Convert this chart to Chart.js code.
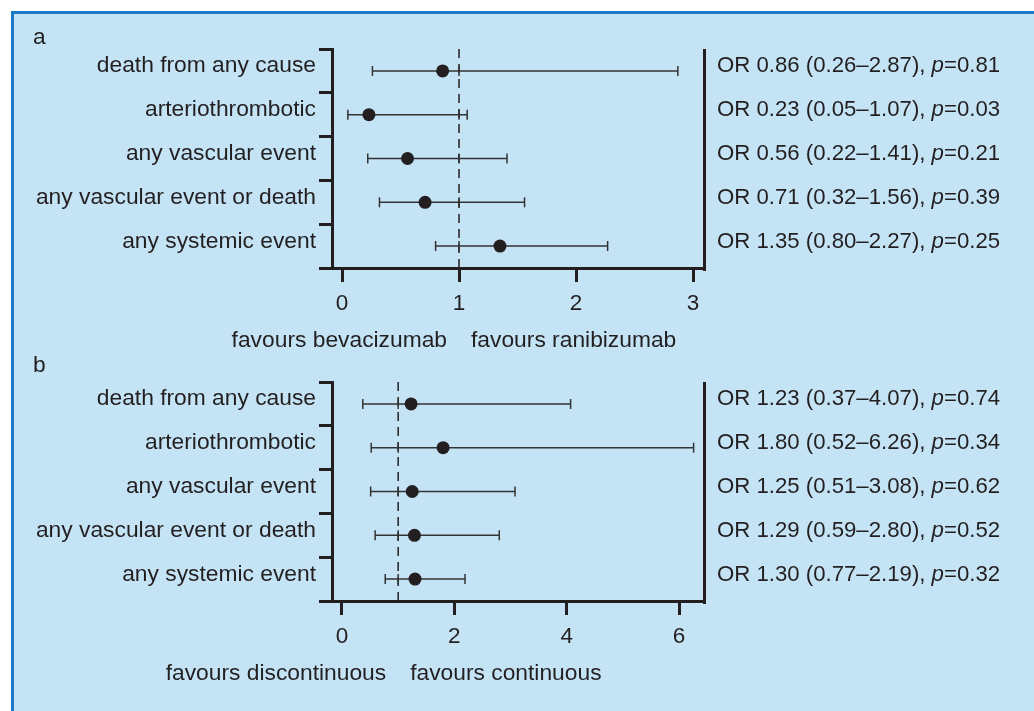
<!DOCTYPE html>
<html>
<head>
<meta charset="utf-8">
<script src="https://cdn.jsdelivr.net/npm/chart.js@4.4.1/dist/chart.umd.min.js"></script>
<style>
    body { margin: 0; background: #fff; width: 1034px; height: 711px; overflow: hidden; position: relative; }
    #frame { position: absolute; left: 11px; top: 11px; right: 0; bottom: 0; background: #c4e4f6;
             border-left: 3px solid #1a7bc7; border-top: 3px solid #1a7bc7; }
    .panel { position: absolute; left: 0; width: 1034px; }
    #wrapA { top: 0; height: 355px; }
    #wrapB { top: 355px; height: 356px; }
</style>
</head>
<body>
<div id="frame"></div>
<div class="panel" id="wrapA"><canvas id="chartA"></canvas></div>
<div class="panel" id="wrapB"><canvas id="chartB"></canvas></div>
<script>
// Outcomes (same for both panels)
const outcomes = ['death from any cause', 'arteriothrombotic', 'any vascular event', 'any vascular event or death', 'any systemic event'];

// Panel a: bevacizumab vs ranibizumab
const orA = [0.86, 0.23, 0.56, 0.71, 1.35];
const lowA = [0.26, 0.05, 0.22, 0.32, 0.80];
const highA = [2.87, 1.07, 1.41, 1.56, 2.27];
const pA = [0.81, 0.03, 0.21, 0.39, 0.25];
const ticksA = [0, 1, 2, 3];

// Panel b: discontinuous vs continuous
const orB = [1.23, 1.80, 1.25, 1.29, 1.30];
const lowB = [0.37, 0.52, 0.51, 0.59, 0.77];
const highB = [4.07, 6.26, 3.08, 2.80, 2.19];
const pB = [0.74, 0.34, 0.62, 0.52, 0.32];
const ticksB = [0, 2, 4, 6];

const ink = '#231f20';
const barInk = '#333333';
const font = "'Liberation Sans', Arial, Helvetica, sans-serif";
const labelFont = '22.8px ' + font;
const orFont = '22.2px ' + font;

// whiskers + reference line under the points, texts on top
const forestPlugin = {
    id: 'forest',
    beforeDatasetsDraw(chart, args, opts) {
        const ctx = chart.ctx;
        const xs = chart.scales.x, ys = chart.scales.y;
        const area = chart.chartArea;
        const x1 = xs.getPixelForValue(1);
        ctx.save();
        ctx.strokeStyle = ink;
        ctx.lineWidth = 1.5;
        ctx.setLineDash([9, 6]);
        ctx.beginPath();
        ctx.moveTo(x1, area.top);
        ctx.lineTo(x1, area.bottom);
        ctx.stroke();
        ctx.setLineDash([]);

        ctx.strokeStyle = barInk;
        opts.low.forEach((lo, i) => {
            const y = ys.getPixelForValue(i);
            const a = xs.getPixelForValue(lo);
            const b = xs.getPixelForValue(opts.high[i]);
            ctx.beginPath();
            ctx.moveTo(a, y); ctx.lineTo(b, y);
            [a, b, x1].forEach(px => { ctx.moveTo(px, y - 5); ctx.lineTo(px, y + 5); });
            ctx.stroke();
        });
        ctx.restore();
    },
    afterDraw(chart, args, opts) {
        const ctx = chart.ctx;
        const xs = chart.scales.x, ys = chart.scales.y;
        const area = chart.chartArea;
        ctx.save();
        // right frame line
        ctx.strokeStyle = ink;
        ctx.lineWidth = 3;
        ctx.beginPath();
        ctx.moveTo(area.right + 1.5, area.top);
        ctx.lineTo(area.right + 1.5, area.bottom + 3);
        ctx.stroke();

        ctx.fillStyle = ink;
        ctx.textBaseline = 'alphabetic';
        outcomes.forEach((label, i) => {
            const y = ys.getPixelForValue(i) + 1.5;
            ctx.font = labelFont;
            ctx.textAlign = 'right';
            ctx.fillText(label, area.left - 16, y);

            // OR text with italic p
            ctx.textAlign = 'left';
            let x = area.right + 14;
            const head = 'OR ' + opts.or[i].toFixed(2) + ' (' + opts.low[i].toFixed(2) + '\u2013' + opts.high[i].toFixed(2) + '), ';
            ctx.font = orFont;
            ctx.fillText(head, x, y);
            x += ctx.measureText(head).width;
            ctx.font = 'italic ' + orFont;
            ctx.fillText('p', x, y);
            x += ctx.measureText('p').width;
            ctx.font = orFont;
            ctx.fillText('=' + opts.p[i].toFixed(2), x, y);
        });

        // panel letter
        ctx.font = labelFont;
        ctx.textAlign = 'left';
        ctx.fillText(opts.letter, 33, opts.letterY);

        // favours labels either side of OR = 1
        const x1 = xs.getPixelForValue(1);
        const fy = area.bottom + 79;
        ctx.textAlign = 'right';
        ctx.fillText(opts.favours[0], x1 - 12, fy);
        ctx.textAlign = 'left';
        ctx.fillText(opts.favours[1], x1 + 12, fy);
        ctx.restore();
    }
};

function makeForest(canvasId, cfg) {
    const ctx = document.getElementById(canvasId).getContext('2d');
    return new Chart(ctx, {
        type: 'scatter',
        data: {
            datasets: [{
                data: outcomes.map((c, i) => ({ x: cfg.or[i], y: c })),
                backgroundColor: ink,
                borderWidth: 0,
                pointRadius: 6.5,
                pointHoverRadius: 6.5
            }]
        },
        options: {
            responsive: true,
            maintainAspectRatio: false,
            animation: false,
            events: [],
            layout: { padding: { top: cfg.top, right: 331, bottom: 0, left: 0 } },
            plugins: {
                legend: { display: false },
                tooltip: { enabled: false },
                forest: cfg
            },
            scales: {
                x: {
                    type: 'linear',
                    min: cfg.min,
                    max: cfg.max,
                    afterBuildTicks: s => { s.ticks = cfg.ticks.map(v => ({ value: v })); },
                    afterFit: s => { s.height = cfg.axisHeight; },
                    grid: { drawOnChartArea: false, tickLength: 14, lineWidth: 3, color: ink },
                    border: { width: 3, color: ink },
                    ticks: { color: ink, font: { family: font, size: 22.5 }, padding: 8, maxRotation: 0, includeBounds: false }
                },
                y: {
                    type: 'category',
                    labels: outcomes,
                    offset: true,
                    afterFit: s => { s.width = 332; },
                    grid: { offset: true, drawOnChartArea: false, tickLength: 13, lineWidth: 3, color: ink },
                    border: { width: 3, color: ink },
                    ticks: { display: false }
                }
            }
        },
        plugins: [forestPlugin]
    });
}

makeForest('chartA', {
    or: orA, low: lowA, high: highA, p: pA, ticks: ticksA,
    min: -0.0855, max: 3.085, top: 49, axisHeight: 87,
    letter: 'a', letterY: 44,
    favours: ['favours bevacizumab', 'favours ranibizumab']
});

makeForest('chartB', {
    or: orB, low: lowB, high: highB, p: pB, ticks: ticksB,
    min: -0.178, max: 6.427, top: 27, axisHeight: 110,
    letter: 'b', letterY: 17,
    favours: ['favours discontinuous', 'favours continuous']
});
</script>
</body>
</html>
